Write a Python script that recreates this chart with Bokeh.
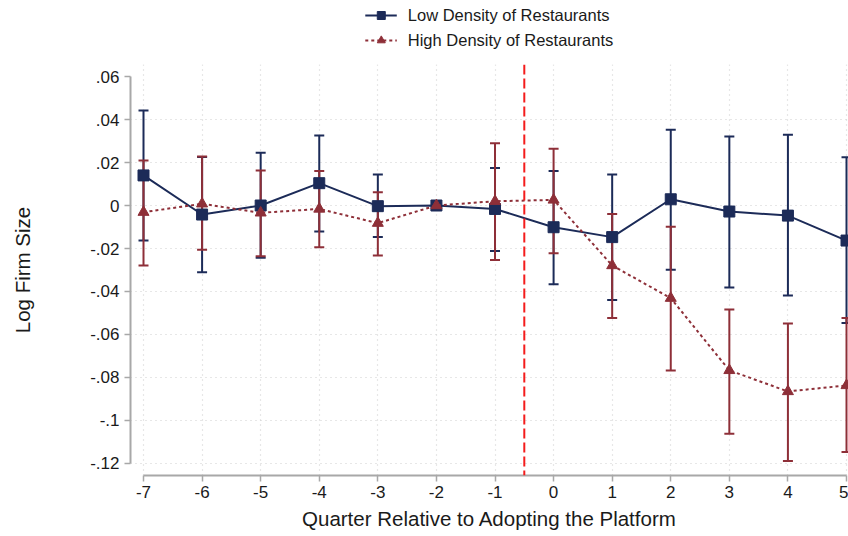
from bokeh.plotting import figure
from bokeh.layouts import column
from bokeh.models import (ColumnDataSource, Whisker, TeeHead, Span, Legend, LegendItem,
                          FixedTicker, Range1d)
from bokeh.embed import file_html
from bokeh.resources import INLINE

# ---------------- data ----------------
quarters = [-7, -6, -5, -4, -3, -2, -1, 0, 1, 2, 3, 4, 5]

low_coef = [0.0140, -0.0042, 0.0000, 0.0104, -0.0003, 0.0000, -0.0016,
            -0.0101, -0.0147, 0.0029, -0.0028, -0.0047, -0.0163]
low_upper = [0.0442, 0.0226, 0.0245, 0.0326, 0.0144, 0.0000, 0.0174,
             0.0160, 0.0144, 0.0353, 0.0321, 0.0329, 0.0225]
low_lower = [-0.0163, -0.0310, -0.0243, -0.0121, -0.0147, 0.0000, -0.0212,
             -0.0366, -0.0440, -0.0299, -0.0381, -0.0419, -0.0547]

high_coef = [-0.0031, 0.0008, -0.0034, -0.0016, -0.0082, 0.0000, 0.0020,
             0.0026, -0.0279, -0.0431, -0.0767, -0.0865, -0.0837]
high_upper = [0.0209, 0.0228, 0.0163, 0.0161, 0.0062, 0.0000, 0.0290,
              0.0264, -0.0040, -0.0099, -0.0484, -0.0549, -0.0523]
high_lower = [-0.0279, -0.0206, -0.0236, -0.0194, -0.0233, 0.0000, -0.0254,
              -0.0222, -0.0523, -0.0767, -0.1062, -0.1189, -0.1147]

reference_quarter = -2
adoption_line = -0.5

series_names = ["Low Density of Restaurants", "High Density of Restaurants"]

y_ticks = [-0.12, -0.1, -0.08, -0.06, -0.04, -0.02, 0.0, 0.02, 0.04, 0.06]
y_tick_labels = ["-.12", "-.1", "-.08", "-.06", "-.04", "-.02", "0", ".02", ".04", ".06"]
y_grid_ticks = [-0.12, -0.1, -0.08, -0.06, -0.04, -0.02, 0.0, 0.02, 0.04]
x_ticks = quarters
x_tick_labels = ["-7", "-6", "-5", "-4", "-3", "-2", "-1", "0", "1", "2", "3", "4", "5"]

x_title = "Quarter Relative to Adopting the Platform"
y_title = "Log Firm Size"

# ---------------- styles ----------------
NAVY = "#1c2b58"
RED = "#8e2f38"
VLINE = "#f41c1c"
AXIS = "#a8a8a8"
GRID = "#cfcfcf"
TEXT = "#1a1a1a"
FONT = "Liberation Sans"
W = 848
LEG_H = 64
MAIN_H = 472

low_src = ColumnDataSource(dict(x=quarters, y=low_coef))
high_src = ColumnDataSource(dict(x=quarters, y=high_coef))

ci_idx = [i for i, q in enumerate(quarters) if q != reference_quarter]
low_ci = ColumnDataSource(dict(x=[quarters[i] for i in ci_idx],
                               hi=[low_upper[i] for i in ci_idx],
                               lo=[low_lower[i] for i in ci_idx]))
high_ci = ColumnDataSource(dict(x=[quarters[i] for i in ci_idx],
                                hi=[high_upper[i] for i in ci_idx],
                                lo=[high_lower[i] for i in ci_idx]))

# ---------------- main plot ----------------
p = figure(width=W, height=MAIN_H, output_backend="svg", toolbar_location=None,
           x_range=Range1d(-7.222, 5.034), y_range=Range1d(-0.1256, 0.0656),
           min_border_left=130, min_border_right=0, min_border_top=0,
           min_border_bottom=61)
p.outline_line_color = None
p.background_fill_color = "white"

p.xgrid.ticker = FixedTicker(ticks=x_ticks)
p.ygrid.ticker = FixedTicker(ticks=y_grid_ticks)
for g in (p.xgrid, p.ygrid):
    g.grid_line_color = GRID
    g.grid_line_dash = "1 4"
    g.grid_line_width = 1.2

p.xaxis.ticker = FixedTicker(ticks=x_ticks)
p.yaxis.ticker = FixedTicker(ticks=y_ticks)
p.yaxis.major_label_overrides = {t: l for t, l in zip(y_ticks, y_tick_labels)}
p.xaxis.major_label_overrides = {t: l for t, l in zip(x_ticks, x_tick_labels)}
p.xaxis.bounds = (min(x_ticks), max(x_ticks))
p.yaxis.bounds = (min(y_ticks), max(y_ticks))
for ax in (p.xaxis, p.yaxis):
    ax.axis_line_color = AXIS
    ax.axis_line_width = 2
    ax.major_tick_line_color = AXIS
    ax.major_tick_line_width = 1.5
    ax.major_tick_out = 6
    ax.major_tick_in = 0
    ax.minor_tick_line_color = None
    ax.major_label_text_font = FONT
    ax.major_label_text_font_size = "17px"
    ax.major_label_text_color = TEXT
    ax.axis_label_text_font = FONT
    ax.axis_label_text_font_size = "20.5px"
    ax.axis_label_text_font_style = "normal"
    ax.axis_label_text_color = TEXT
p.yaxis.major_label_orientation = "horizontal"
p.xaxis.major_label_standoff = 4
p.yaxis.major_label_standoff = 5
p.xaxis.axis_label = x_title
p.yaxis.axis_label = y_title
p.xaxis.axis_label_standoff = 6
p.yaxis.axis_label_standoff = 53

p.add_layout(Span(location=adoption_line, dimension="height", line_color=VLINE,
                  line_width=2, line_dash="10 4"))

for src, col in ((low_ci, NAVY), (high_ci, RED)):
    p.add_layout(Whisker(source=src, base="x", upper="hi", lower="lo",
                         dimension="height", line_color=col, line_width=2,
                         upper_head=TeeHead(size=10, line_color=col, line_width=2),
                         lower_head=TeeHead(size=10, line_color=col, line_width=2)))

p.line("x", "y", source=low_src, line_color=NAVY, line_width=2)
p.scatter("x", "y", source=low_src, marker="square", size=11,
          fill_color=NAVY, line_color=NAVY)
p.line("x", "y", source=high_src, line_color=RED, line_width=2, line_dash="3 3")
p.scatter("x", "y", source=high_src, marker="triangle", size=11,
          fill_color=RED, line_color=RED)

# ---------------- legend strip (same series, ranges kept away from the data) ----------------
lf = figure(width=W, height=LEG_H, output_backend="svg", toolbar_location=None,
            x_range=Range1d(100, 101), y_range=Range1d(100, 101),
            min_border_left=130, min_border_right=0, min_border_top=0, min_border_bottom=0)
lf.axis.visible = False
lf.grid.visible = False
lf.outline_line_color = None
gl1 = lf.line("x", "y", source=low_src, line_color=NAVY, line_width=2)
gm1 = lf.scatter("x", "y", source=low_src, marker="square", size=11,
                 fill_color=NAVY, line_color=NAVY)
gl2 = lf.line("x", "y", source=high_src, line_color=RED, line_width=2, line_dash="3 3")
gm2 = lf.scatter("x", "y", source=high_src, marker="triangle", size=11,
                 fill_color=RED, line_color=RED)
legend = Legend(items=[LegendItem(label=series_names[0], renderers=[gl1, gm1]),
                       LegendItem(label=series_names[1], renderers=[gl2, gm2])],
                location="top_center", orientation="vertical",
                padding=0, margin=5, spacing=5, glyph_height=20, label_height=20,
                glyph_width=32, label_standoff=11,
                label_text_font=FONT, label_text_font_size="16.5px",
                label_text_color=TEXT, border_line_color=None,
                background_fill_alpha=0)
lf.add_layout(legend, "center")

layout = column(lf, p, spacing=0)
open("out.html", "w").write(file_html(layout, INLINE))
